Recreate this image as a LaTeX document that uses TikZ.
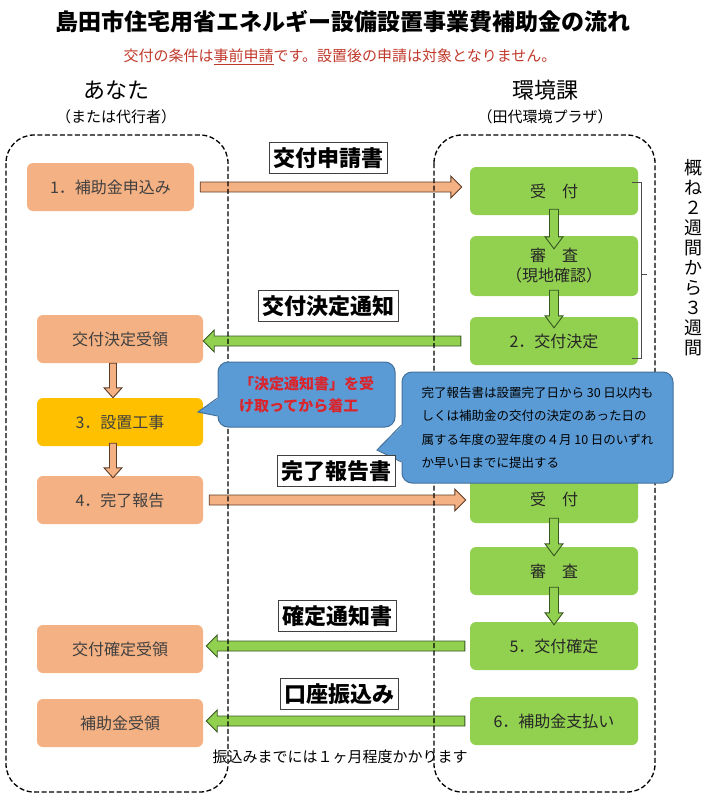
\documentclass[tikz,border=0pt]{standalone}
\usepackage{fontspec}
\setmainfont{Noto Sans CJK JP}
\usetikzlibrary{calc,positioning}

\definecolor{peach}{HTML}{F4B183}
\definecolor{peachdark}{HTML}{5E3C28}
\definecolor{gold}{HTML}{FFC000}
\definecolor{leaf}{HTML}{92D050}
\definecolor{leafdark}{HTML}{385723}
\definecolor{callblue}{HTML}{5B9BD5}
\definecolor{callline}{HTML}{41719C}
\definecolor{boxtext}{HTML}{404040}
\definecolor{notered}{HTML}{C0392B}
\definecolor{callred}{HTML}{D9262E}

\tikzset{
    gap a/.store in=\gapa, gap b/.store in=\gapb,
    shaft/.store in=\shaftw, head/.store in=\headw, headlen/.store in=\headl,
    gap a=0pt, gap b=0pt, shaft=5pt, head=11pt, headlen=11pt,
    blockarrow/.style={line width=0.9pt, to path={
        ($(\tikztostart)!\gapa!(\tikztotarget)!\shaftw!90:(\tikztotarget)$)
        -- ($(\tikztotarget)!\gapb+\headl!(\tikztostart)!\shaftw!-90:(\tikztostart)$)
        -- ($(\tikztotarget)!\gapb+\headl!(\tikztostart)!\headw!-90:(\tikztostart)$)
        -- ($(\tikztotarget)!\gapb!(\tikztostart)$)
        -- ($(\tikztotarget)!\gapb+\headl!(\tikztostart)!\headw!90:(\tikztostart)$)
        -- ($(\tikztotarget)!\gapb+\headl!(\tikztostart)!\shaftw!90:(\tikztostart)$)
        -- ($(\tikztostart)!\gapa!(\tikztotarget)!\shaftw!-90:(\tikztotarget)$)
        -- cycle}},
    parrow/.style={blockarrow, draw=peachdark, fill=peach},
    garrow/.style={blockarrow, draw=leafdark, fill=leaf},
    pdown/.style={parrow, shaft=3.5pt, head=9pt, headlen=10pt},
    gdown/.style={garrow, shaft=4.5pt, head=9pt, headlen=12pt},
    youbox/.style={rectangle, rounded corners=6pt, fill=peach, text=boxtext,
        minimum width=166pt, minimum height=48pt, font=\fontsize{16}{20}\selectfont},
    workbox/.style={youbox, fill=gold},
    citybox/.style={youbox, fill=leaf, text=black!85, minimum width=168pt, align=center},
    doclabel/.style={draw=black!75, line width=0.6pt, fill=white, inner xsep=4pt,
        minimum height=31pt, font=\bfseries\fontsize{22}{24}\selectfont},
    lane/.style={draw, line width=1.3pt, dash pattern=on 5pt off 2.5pt, rounded corners=28pt},
    callbox/.style={fill=callblue, draw=callline, line width=1pt, rounded corners=10pt, align=left},
}

\begin{document}
\begin{tikzpicture}[x=1pt, y=-1pt, node distance=75pt]
    \useasboundingbox (0,0) rectangle (705,800);

    \node[font=\bfseries\fontsize{23}{26}\selectfont] (title) at (343,22) {島田市住宅用省エネルギー設備設置事業費補助金の流れ};
    \node[text=notered, font=\fontsize{15}{18}\selectfont] (rule) at (340,57) {交付の条件は\underline{事前申請}です。設置後の申請は対象となりません。};
    \node[font=\fontsize{22}{24}\selectfont] (you) at (116,90) {あなた};
    \node[font=\fontsize{15}{18}\selectfont] (youalt) at (116,117) {（または代行者）};
    \node[font=\fontsize{22}{24}\selectfont] (city) at (545,90) {環境課};
    \node[font=\fontsize{15}{18}\selectfont] (cityalt) at (545,117) {（田代環境プラザ）};

    \node[youbox, minimum width=167pt] (apply) at (110.5,187) {1．補助金申込み};
    \node[youbox] (notice) at (120,339) {交付決定受領};
    \node[workbox] (work) at (120,422) {3．設置工事};
    \node[youbox] (report) at (120,500) {4．完了報告};
    \node[youbox] (confirm) at (120,649) {交付確定受領};
    \node[youbox, below of=confirm, node distance=74pt] (receive) {補助金受領};

    \node[citybox] (accept) at (554,191) {受　付};
    \node[citybox, below of=accept, minimum height=60pt] (check) {審　査\\（現地確認）};
    \node[citybox, below of=check] (decide) {2．交付決定};
    \node[citybox] (accept2) at (554,499) {受　付};
    \node[citybox, below of=accept2, node distance=72pt] (check2) {審　査};
    \node[citybox, below of=check2] (fix) {5．交付確定};
    \node[citybox, below of=fix] (pay) {6．補助金支払い};

    \draw[parrow, gap a=6pt, gap b=8pt] (apply.east) to (apply.east -| accept.west);
    \draw[garrow, gap a=9pt] (decide.west) to (decide.west -| notice.east);
    \draw[pdown] ($(notice.south)+(-7,0)$) to ($(work.north)+(-7,0)$);
    \draw[pdown, gap a=-3pt, gap b=-2pt] ($(work.south)+(-7,0)$) to ($(report.north)+(-7,0)$);
    \draw[gdown, gap a=-6pt, gap b=-13pt] (accept.south) to (check.north);
    \draw[gdown, gap a=-6pt, gap b=-11pt] (check.south) to (decide.north);
    \draw[parrow, gap a=6pt, gap b=4pt] (report.east) to (report.east -| accept2.west);
    \draw[gdown, gap a=-5pt, gap b=-9pt] (accept2.south) to (check2.north);
    \draw[gdown, gap a=-8pt, gap b=-3pt] (check2.south) to (fix.north);
    \draw[garrow, gap a=5pt, gap b=3pt] (fix.west) to (fix.west -| confirm.east);
    \draw[garrow, gap a=5pt, gap b=3pt] (pay.west) to (pay.west -| receive.east);

    \draw[lane] (6,135) rectangle (228,792);
    \draw[lane] (434,135) rectangle (655,792);

    \draw[black!70, line width=0.6pt] (632,182) -- (641,182) -- (641,358) -- (632,358) (641,274) -- (647,274);
    \node[font=\fontsize{18}{20}\selectfont, align=center] (span) at (693,258) {概\\ね\\２\\週\\間\\か\\ら\\３\\週\\間};

    \node[callbox, text=callred, font=\bfseries\fontsize{15}{22}\selectfont, minimum width=177pt, minimum height=65pt] (startnote) at (306.5,394.5) {「決定通知書」を受\\け取ってから着工};
    \coordinate (starttip) at (198,412);
    \fill[callblue] ($(startnote.west)+(1.5,3.5)$) -- (starttip) -- ($(startnote.west)+(1.5,21.5)$) -- cycle;
    \draw[callline, line width=1pt] ($(startnote.west)+(0,3.5)$) -- (starttip) -- ($(startnote.west)+(0,21.5)$);

    \node[callbox, font=\fontsize{12.5}{23.5}\selectfont, minimum width=271pt, minimum height=111pt] (duenote) at (537.5,427.5) {完了報告書は設置完了日から 30 日以内も\\しくは補助金の交付の決定のあった日の\\属する年度の翌年度の４月 10 日のいずれ\\か早い日までに提出する};
    \coordinate (duetip) at (377,450);
    \fill[callblue] ($(duenote.west)+(1.5,-2.5)$) -- (duetip) -- ($(duenote.west)+(1.5,34.5)$) -- cycle;
    \draw[callline, line width=1pt] ($(duenote.west)+(0,-2.5)$) -- (duetip) -- ($(duenote.west)+(0,34.5)$);

    \node[doclabel] (applydoc) at (328,158) {交付申請書};
    \node[doclabel] (noticedoc) at (328,306) {交付決定通知};
    \node[doclabel] (reportdoc) at (336,471) {完了報告書};
    \node[doclabel] (fixdoc) at (337,616) {確定通知書};
    \node[doclabel] (paydoc) at (339,694) {口座振込み};

    \node[font=\fontsize{15}{18}\selectfont] (paynote) at (340,757) {振込みまでには１ヶ月程度かかります};
\end{tikzpicture}
\end{document}
